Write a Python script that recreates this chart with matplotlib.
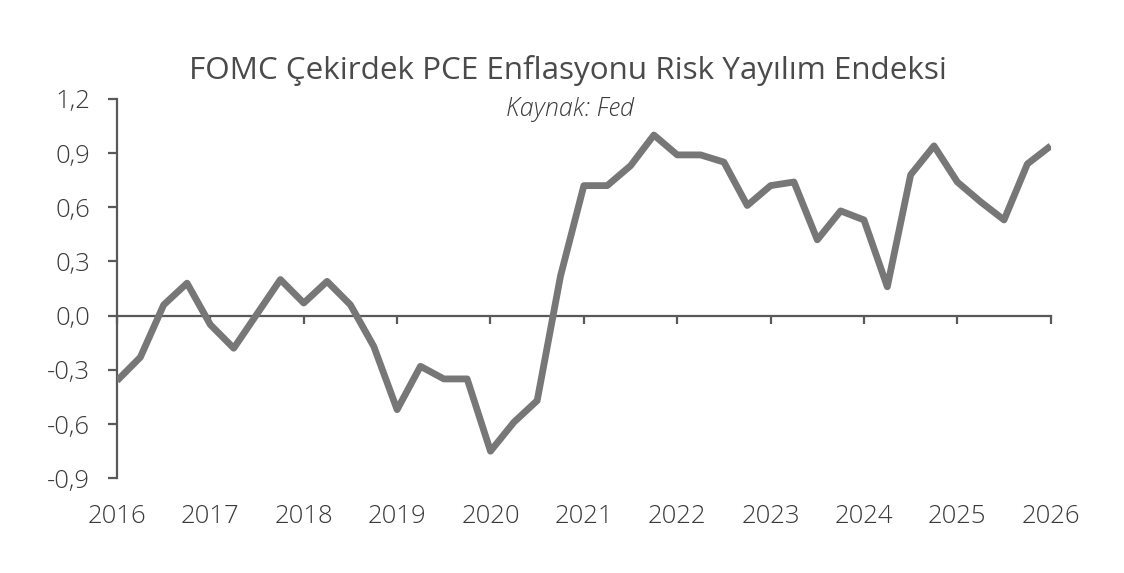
import numpy as np
import matplotlib
import matplotlib.pyplot as plt
import matplotlib.transforms as mtransforms

matplotlib.use("Agg")

# quarterly values, 2016Q1 .. 2026Q1
values = [
    -0.36, -0.23, 0.06, 0.18,
    -0.05, -0.18, 0.01, 0.20,
    0.07, 0.19, 0.06, -0.17,
    -0.52, -0.28, -0.35, -0.35,
    -0.75, -0.59, -0.47, 0.22,
    0.72, 0.72, 0.83, 1.00,
    0.89, 0.89, 0.85, 0.61,
    0.72, 0.74, 0.42, 0.58,
    0.53, 0.16, 0.78, 0.94,
    0.74, 0.63, 0.53, 0.84,
    0.94,
]
start_year = 2016
years = list(range(2016, 2027))
y_ticks = [-0.9, -0.6, -0.3, 0.0, 0.3, 0.6, 0.9, 1.2]

title = "FOMC Çekirdek PCE Enflasyonu Risk Yayılım Endeksi"
subtitle = "Kaynak: Fed"

plt.rcParams["font.family"] = ["Open Sans", "DejaVu Sans"]
txt_color = "#3a3a3a"
axis_color = "#595959"

x = start_year + np.arange(len(values)) / 4.0

fig = plt.figure(figsize=(11.24, 5.73), dpi=100)
ax = fig.add_axes([0.1041, 0.1653, 0.9348 - 0.1041, 0.8274 - 0.1653])

ax.plot(x, values, color="#777777", linewidth=4.9,
        solid_joinstyle="round", solid_capstyle="butt", zorder=3)

ax.set_xlim(years[0], years[-1])
ax.set_ylim(y_ticks[0], y_ticks[-1])

for side in ("top", "right"):
    ax.spines[side].set_visible(False)
ax.spines["bottom"].set_position(("data", 0))
for side in ("left", "bottom"):
    ax.spines[side].set_color(axis_color)
    ax.spines[side].set_linewidth(1.6)

ax.set_yticks(y_ticks)
ax.set_yticklabels([f"{v:.1f}".replace(".", ",") for v in y_ticks])
ax.tick_params(axis="y", direction="out", length=6.5, width=1.6,
               color=axis_color, labelcolor=txt_color, labelsize=18.5,
               pad=13)
ax.set_xticks(years)
ax.set_xticklabels([])
ax.tick_params(axis="x", direction="out", length=6, width=1.6,
               color=axis_color)
for lab in ax.get_yticklabels():
    lab.set_fontweight("light")

trans = mtransforms.blended_transform_factory(ax.transData, ax.transAxes)
for yr in years:
    ax.text(yr, -0.1, str(yr), transform=trans, ha="center", va="center",
            fontsize=18.5, color=txt_color, fontweight="light")

fig.text(0.5055, 0.877, title, ha="center", va="center", fontsize=22.6,
         color="#4a4a4a")
fig.text(0.5075, 0.809, subtitle, ha="center", va="center", fontsize=18,
         style="italic", color=txt_color, fontweight="light")

fig.savefig("out.png", dpi=100)
plt.close(fig)
